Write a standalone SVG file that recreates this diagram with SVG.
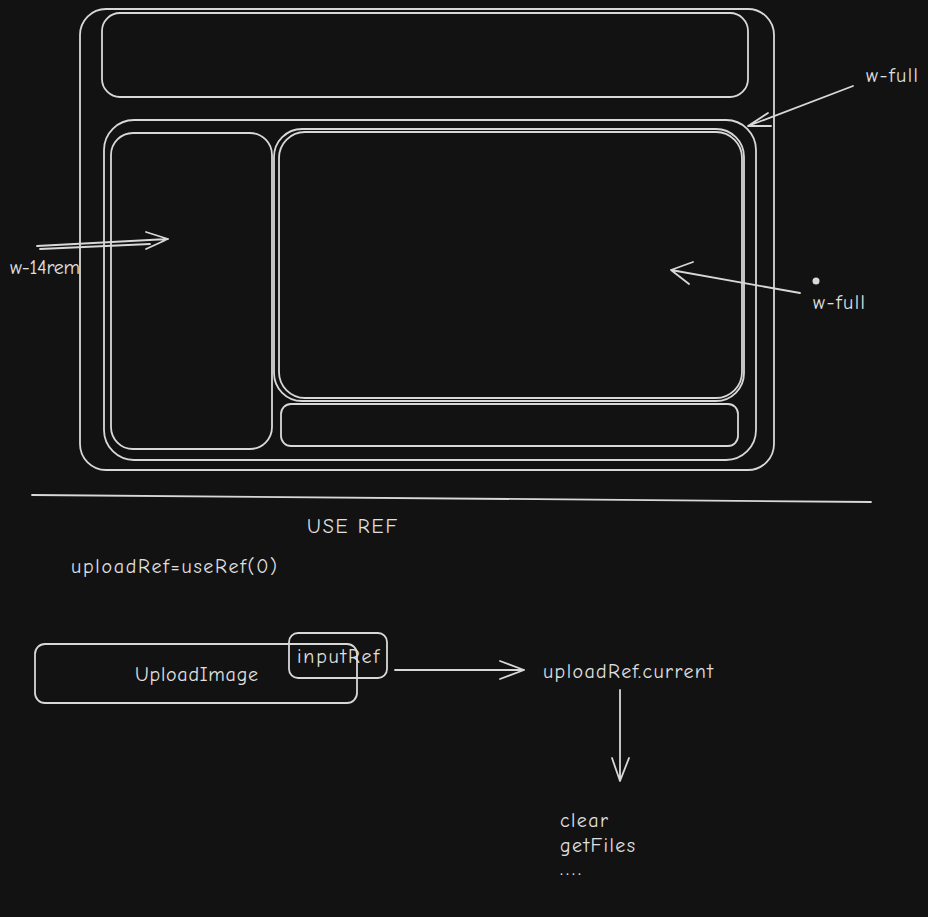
<svg xmlns="http://www.w3.org/2000/svg" width="928" height="917" viewBox="0 0 928 917">
<defs>
<style>
.s{fill:none;stroke:#d8d8d8;stroke-width:1.8;stroke-linecap:round;stroke-linejoin:round}
.t{fill:#e0e0e0;font-family:"Comic Neue","Liberation Sans",sans-serif;font-size:20px}
</style>
</defs>
<rect width="928" height="917" fill="#121212"/>
<g id="outer"><rect class="s" x="80" y="9" width="694" height="461" rx="26"/></g>
<g id="topbar"><rect class="s" x="102" y="13" width="646" height="84" rx="18"/></g>
<g id="middle"><rect class="s" x="104" y="120" width="652" height="340" rx="30"/></g>
<g id="leftpanel"><rect class="s" x="111" y="133" width="161" height="316" rx="22"/></g>
<g id="mainpanel"><rect class="s" x="274" y="129" width="470" height="272" rx="28"/><rect class="s" x="279" y="132" width="463" height="266" rx="26"/></g>
<g id="bottomstrip"><rect class="s" x="281" y="404" width="457" height="42" rx="10"/></g>
<g id="separator"><path class="s" d="M32 495 L871 502"/></g>
<g id="connectors">
<path class="s" d="M853 86 L748 126 M748 126 L768 113 M748 126 L771 126"/>
<path class="s" d="M37 246 L168 239 M40 249 L150 244 M168 239 L146 232 M168 239 L146 249"/>
<path class="s" d="M800 293 L671 270 M671 270 L693 262 M671 270 L689 284"/>
<path class="s" d="M395 670 L524 670 M524 670 L500 661 M524 670 L500 679"/>
<path class="s" d="M620 690 L620 781 M620 781 L612 758 M620 781 L629 758"/>
</g>
<circle cx="816" cy="281" r="3.5" fill="#d8d8d8"/>
<g id="labels">
<text class="t" x="866" y="82" textLength="52">w-full</text>
<text class="t" x="10" y="274" textLength="70">w-14rem</text>
<text class="t" x="813" y="309" textLength="52">w-full</text>
<text class="t" x="307" y="533" textLength="90">USE REF</text>
<text class="t" x="71" y="573" textLength="206">uploadRef=useRef(0)</text>
</g>
<g id="uploadimage"><rect class="s" x="35" y="644" width="322" height="59" rx="10"/><text class="t" x="135" y="681" textLength="123">UploadImage</text></g>
<g id="inputref"><rect class="s" x="289" y="633" width="98" height="45" rx="9"/><text class="t" x="297" y="663" textLength="82">inputRef</text></g>
<g id="current"><text class="t" x="543" y="678" textLength="170">uploadRef.current</text></g>
<g id="methods"><text class="t" x="560" y="827" textLength="48">clear</text><text class="t" x="560" y="852" textLength="75">getFiles</text><text class="t" x="560" y="875" textLength="21">....</text></g>
</svg>
